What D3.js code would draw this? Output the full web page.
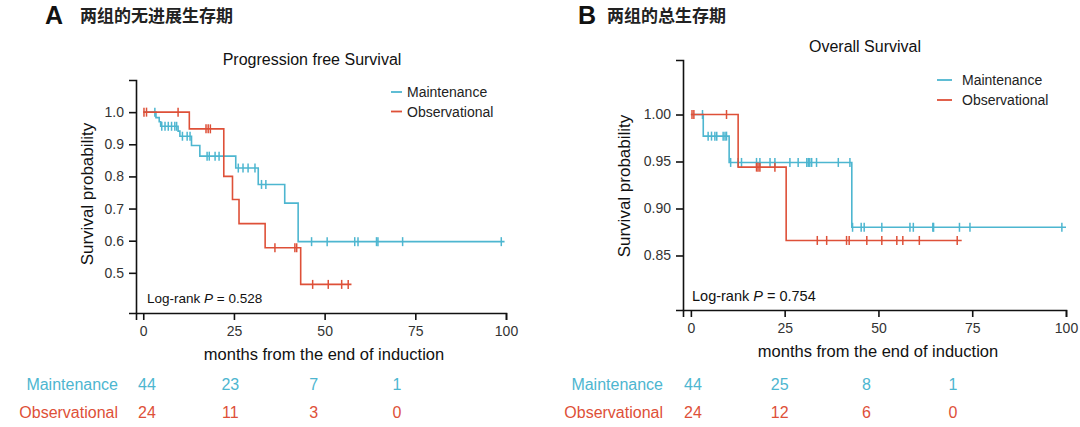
<!DOCTYPE html>
<html><head><meta charset="utf-8">
<script src="https://cdn.jsdelivr.net/npm/d3@7"></script>
<style>
html,body{margin:0;padding:0;background:#fff;}
svg{display:block;font-family:"Liberation Sans",Arial,sans-serif;}
</style></head>
<body>
<svg id="chart" width="1080" height="427"></svg>
<script>
// ---------- DATA ----------
const timeTicks = [0, 25, 50, 75, 100];
const pfsYTicks = [0.5, 0.6, 0.7, 0.8, 0.9, 1.0];
const osYTicks = [0.85, 0.90, 0.95, 1.00];
const groups = ["Maintenance", "Observational"];

// Panel A: progression free survival (step times and survival after each step)
const pfsMaintTimes = [0, 3.5, 4.4, 4.8, 9.6, 10.1, 13.3, 15.6, 25.5, 31.7, 39.0, 42.7];
const pfsMaintSurv  = [1, 0.983, 0.970, 0.956, 0.941, 0.925, 0.896, 0.863, 0.826, 0.775, 0.717, 0.597];
const pfsMaintEnd = 99.6;
const pfsMaintCensor = [3.2, 5.1, 6.0, 6.9, 7.8, 8.7, 9.2, 10.8, 12.1, 12.9, 17.6, 18.2, 19.8, 20.9,
  26.2, 27.5, 28.9, 30.8, 32.6, 33.8, 46.4, 50.7, 58.3, 59.2, 64.3, 64.7, 71.5, 98.7];

const pfsObsTimes = [0, 12.7, 22.2, 24.6, 26.4, 33.6, 43.4];
const pfsObsSurv  = [1, 0.948, 0.800, 0.728, 0.653, 0.578, 0.464];
const pfsObsEnd = 57.4;
const pfsObsCensor = [0.2, 0.9, 9.6, 17.3, 17.9, 18.5, 36.3, 41.8, 42.3, 46.7, 51.0, 54.7, 56.5];

// Panel B: overall survival
const osMaintTimes = [0, 3.3, 10.2, 42.9];
const osMaintSurv  = [1, 0.977, 0.949, 0.880];
const osMaintEnd = 100;
const osMaintCensor = [3.1, 4.6, 5.5, 6.4, 6.9, 8.6, 9.1, 9.5, 10.6, 12.6, 13.5, 17.5, 18.4, 21.1, 22.4,
  26.4, 28.6, 30.9, 31.3, 31.7, 32.2, 33.5, 39.3, 42.4, 43.1, 45.4, 46.2, 50.9, 58.4, 59.3, 64.5, 64.7,
  71.6, 74.4, 98.9];

const osObsTimes = [0, 12.6, 25.4];
const osObsSurv  = [1, 0.944, 0.866];
const osObsEnd = 72.2;
const osObsCensor = [0.3, 0.8, 9.5, 17.5, 17.9, 18.4, 22.4, 33.7, 36.2, 41.5, 42.2, 46.9, 50.9, 54.9,
  56.5, 60.9, 71.0];

// Numbers at risk
const pfsRiskMaint = [44, 23, 7, 1];
const pfsRiskObs   = [24, 11, 3, 0];
const osRiskMaint  = [44, 25, 8, 1];
const osRiskObs    = [24, 12, 6, 0];

const pfsPValue = "0.528";
const osPValue = "0.754";

// ---------- STYLE ----------
const colMaint = "#4db6d0";
const colObs = "#de5038";
const svg = d3.select("#chart");

function panel(cfg) {
  const g = svg.append("g");
  const x = d3.scaleLinear().domain(cfg.xDomain).range(cfg.xRange);
  const y = d3.scaleLinear().domain(cfg.yDomain).range(cfg.yRange);

  // header
  g.append("text").attr("x", cfg.letterX).attr("y", 24)
    .attr("font-size", 25).attr("font-weight", "bold").attr("fill", "#111").text(cfg.letter);
  g.append("text").attr("x", cfg.letterX + cfg.cnOffset).attr("y", 22)
    .attr("font-family", "'Noto Sans CJK SC',sans-serif")
    .attr("font-size", 17).attr("font-weight", "bold").attr("fill", "#222").text(cfg.cnTitle);

  // title
  g.append("text").attr("x", cfg.titleX).attr("y", cfg.titleY).attr("text-anchor", "middle")
    .attr("font-size", 16).attr("fill", "#111").text(cfg.title);

  // axes
  const xAxis = d3.axisBottom(x).tickValues(timeTicks).tickSizeOuter(0).tickSize(7).tickPadding(6);
  const yAxis = d3.axisLeft(y).tickValues(cfg.yTicks).tickSizeOuter(0).tickSize(7).tickPadding(5)
    .tickFormat(d3.format(cfg.yFmt));
  const gx = g.append("g").attr("transform", `translate(0,${cfg.yRange[0]})`).call(xAxis);
  const gy = g.append("g").attr("transform", `translate(${cfg.xRange[0]},0)`).call(yAxis);
  [gx, gy].forEach(a => {
    a.select(".domain").attr("stroke", "#111").attr("stroke-width", 1.6);
    a.selectAll(".tick line").attr("stroke", "#111").attr("stroke-width", 1.6);
    a.selectAll(".tick text").attr("font-size", 14).attr("fill", "#333")
      .attr("font-family", "'Liberation Sans',Arial,sans-serif");
  });

  // axis labels
  g.append("text").attr("x", cfg.xLabelX).attr("y", cfg.xLabelY).attr("text-anchor", "middle")
    .attr("font-size", 16.5).attr("fill", "#111").text("months from the end of induction");
  g.append("text").attr("transform", `translate(${cfg.yLabelX},${cfg.yLabelY}) rotate(-90)`)
    .attr("text-anchor", "middle").attr("font-size", 17).attr("fill", "#111").text("Survival probability");

  // curves
  cfg.series.forEach(s => {
    const pts = [];
    s.times.forEach((t, i) => {
      if (i > 0) pts.push([t, s.surv[i - 1]]);
      pts.push([t, s.surv[i]]);
    });
    pts.push([s.end, s.surv[s.surv.length - 1]]);
    g.append("path").attr("d", d3.line().x(d => x(d[0])).y(d => y(d[1]))(pts))
      .attr("fill", "none").attr("stroke", s.color).attr("stroke-width", 1.6);
    const survAt = t => {
      let v = s.surv[0];
      s.times.forEach((tt, i) => { if (tt <= t) v = s.surv[i]; });
      return v;
    };
    g.selectAll(null).data(s.censor).join("line")
      .attr("x1", d => x(d)).attr("x2", d => x(d))
      .attr("y1", d => y(survAt(d)) - 4.5).attr("y2", d => y(survAt(d)) + 4.5)
      .attr("stroke", s.color).attr("stroke-width", 1.5);
  });

  // legend
  cfg.series.forEach((s, i) => {
    const ly = cfg.legendY + i * cfg.legendGap;
    g.append("line").attr("x1", cfg.legendX).attr("x2", cfg.legendX + cfg.legendLen)
      .attr("y1", ly).attr("y2", ly).attr("stroke", s.color).attr("stroke-width", 1.8);
    g.append("text").attr("x", cfg.legendX + cfg.legendLen + cfg.legendPad).attr("y", ly + 5)
      .attr("font-size", 14).attr("fill", "#222").text(s.name);
  });

  // log-rank text
  const lr = g.append("text").attr("x", cfg.lrX).attr("y", cfg.lrY).attr("font-size", cfg.lrSize).attr("fill", "#111");
  lr.append("tspan").text("Log-rank  ");
  lr.append("tspan").attr("font-style", "italic").text("P");
  lr.append("tspan").text(" = " + cfg.p);

  // risk table
  const rx = d3.scalePoint().domain(d3.range(cfg.risk[0].length)).range(cfg.riskRange);
  cfg.series.forEach((s, i) => {
    const ry = 390 + i * 28;
    g.append("text").attr("x", cfg.riskLabelX).attr("y", ry).attr("text-anchor", "end")
      .attr("font-size", 16).attr("fill", s.color).text(s.name);
    g.selectAll(null).data(cfg.risk[i]).join("text")
      .attr("x", (d, j) => rx(j)).attr("y", ry).attr("text-anchor", "middle")
      .attr("font-size", 16).attr("fill", s.color).text(d => d);
  });
}

panel({
  letter: "A", letterX: 45, cnOffset: 35, cnTitle: "两组的无进展生存期",
  title: "Progression free Survival", titleX: 312, titleY: 65,
  xDomain: [-2, 100], xRange: [136, 506],
  yDomain: [0.375, 1.10], yRange: [313, 80], yTicks: pfsYTicks, yFmt: ".1f",
  xLabelX: 324, xLabelY: 360, yLabelX: 93, yLabelY: 194,
  legendX: 391, legendLen: 11, legendPad: 5, legendY: 92, legendGap: 19.5,
  lrX: 147, lrY: 303, lrSize: 13.5, p: pfsPValue,
  riskLabelX: 118, riskRange: [147, 397], risk: [pfsRiskMaint, pfsRiskObs],
  series: [
    { name: groups[0], color: colMaint, times: pfsMaintTimes, surv: pfsMaintSurv, end: pfsMaintEnd, censor: pfsMaintCensor },
    { name: groups[1], color: colObs, times: pfsObsTimes, surv: pfsObsSurv, end: pfsObsEnd, censor: pfsObsCensor }
  ]
});

panel({
  letter: "B", letterX: 578, cnOffset: 29, cnTitle: "两组的总生存期",
  title: "Overall Survival", titleX: 865, titleY: 52,
  xDomain: [-2.1, 100], xRange: [683, 1066],
  yDomain: [0.792, 1.058], yRange: [310, 60], yTicks: osYTicks, yFmt: ".2f",
  xLabelX: 878, xLabelY: 357, yLabelX: 630, yLabelY: 186,
  legendX: 937, legendLen: 15, legendPad: 10, legendY: 80, legendGap: 20,
  lrX: 692, lrY: 301, lrSize: 14.5, p: osPValue,
  riskLabelX: 663, riskRange: [693, 953], risk: [osRiskMaint, osRiskObs],
  series: [
    { name: groups[0], color: colMaint, times: osMaintTimes, surv: osMaintSurv, end: osMaintEnd, censor: osMaintCensor },
    { name: groups[1], color: colObs, times: osObsTimes, surv: osObsSurv, end: osObsEnd, censor: osObsCensor }
  ]
});
</script>
</body></html>
